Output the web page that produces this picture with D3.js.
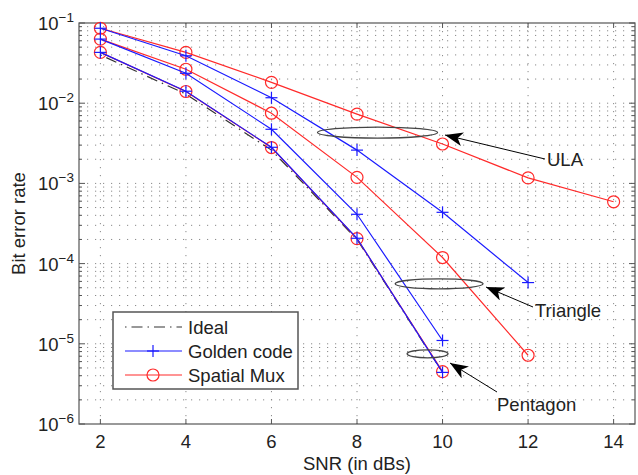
<!DOCTYPE html>
<html>
<head>
<meta charset="utf-8">
<script src="https://cdn.jsdelivr.net/npm/d3@7"></script>
<style>
  html, body { margin: 0; padding: 0; background: #fff; }
  svg { display: block; }
  text { font-family: "Liberation Sans", Arial, Helvetica, sans-serif; fill: #222; }
</style>
</head>
<body>
<svg id="chart" width="638" height="475"></svg>
<script>
// SNR points (dB)
const snr = [2, 4, 6, 8, 10, 12, 14];

// Bit error rates per array geometry and scheme
const idealBer        = [4.0e-2, 1.3e-2, 2.6e-3, 2.0e-4, 4.4e-6];
const ulaGolden       = [8.6e-2, 3.9e-2, 1.17e-2, 2.6e-3, 4.36e-4, 5.8e-5];
const ulaSpatial      = [8.6e-2, 4.3e-2, 1.82e-2, 7.3e-3, 3.1e-3, 1.17e-3, 5.9e-4];
const triangleGolden  = [6.3e-2, 2.36e-2, 4.73e-3, 4.12e-4, 1.1e-5];
const triangleSpatial = [6.3e-2, 2.65e-2, 7.5e-3, 1.19e-3, 1.19e-4, 7.2e-6];
const pentagonGolden  = [4.3e-2, 1.41e-2, 2.82e-3, 2.07e-4, 4.4e-6];
const pentagonSpatial = [4.3e-2, 1.40e-2, 2.80e-3, 2.05e-4, 4.5e-6];

const xTicks = [2, 4, 6, 8, 10, 12, 14];
const yTickExps = [-1, -2, -3, -4, -5, -6];
const legendLabels = ["Ideal", "Golden code", "Spatial Mux"];
const groupLabels = ["ULA", "Triangle", "Pentagon"];

const svg = d3.select("#chart");
const plot = { left: 79, right: 635, top: 23, bottom: 424 };
const fs = 18.5;
const dashDot = "1.5,5,11,5";

const x = d3.scaleLinear().domain([1.5, 14.5]).range([plot.left, plot.right]);
const y = d3.scaleLog().domain([1e-6, 1e-1]).range([plot.bottom, plot.top]);

const blue = "#1a1aff", red = "#ff2a2a", gridCol = "#8a8a8a";

// grid: dotted lines at every decade and minor value, and at each x tick
const minorVals = [];
for (let e = -6; e < -1; e++) for (let m = 1; m <= 9; m++) minorVals.push(m * Math.pow(10, e));
minorVals.push(1e-1);

const grid = svg.append("g");
grid.selectAll("line.h").data(minorVals.filter(v => v > 1e-6 && v < 1e-1)).join("line")
  .attr("x1", plot.left).attr("x2", plot.right)
  .attr("y1", d => y(d)).attr("y2", d => y(d))
  .attr("stroke", gridCol).attr("stroke-width", 1)
  .attr("stroke-dasharray", "1.2,6.8");
grid.selectAll("line.v").data(xTicks).join("line")
  .attr("x1", d => x(d)).attr("x2", d => x(d))
  .attr("y1", plot.top).attr("y2", plot.bottom)
  .attr("stroke", gridCol).attr("stroke-width", 1)
  .attr("stroke-dasharray", "1.2,6.8");

// axes box
svg.append("rect")
  .attr("x", plot.left).attr("y", plot.top)
  .attr("width", plot.right - plot.left).attr("height", plot.bottom - plot.top)
  .attr("fill", "none").attr("stroke", "#555").attr("stroke-width", 1.2);

// ticks (inside, on both sides)
const ticks = svg.append("g").attr("stroke", "#555").attr("stroke-width", 1);
xTicks.forEach(t => {
  ticks.append("line").attr("x1", x(t)).attr("x2", x(t)).attr("y1", plot.bottom).attr("y2", plot.bottom - 5);
  ticks.append("line").attr("x1", x(t)).attr("x2", x(t)).attr("y1", plot.top).attr("y2", plot.top + 5);
});
minorVals.forEach(v => {
  const major = Math.abs(Math.log10(v) - Math.round(Math.log10(v))) < 1e-9;
  const len = major ? 6 : 3;
  ticks.append("line").attr("x1", plot.left).attr("x2", plot.left + len).attr("y1", y(v)).attr("y2", y(v));
  ticks.append("line").attr("x1", plot.right).attr("x2", plot.right - len).attr("y1", y(v)).attr("y2", y(v));
});

// x tick labels
svg.append("g").selectAll("text").data(xTicks).join("text")
  .attr("x", d => x(d)).attr("y", plot.bottom + 24)
  .attr("text-anchor", "middle").attr("font-size", fs)
  .text(d => d);

// y tick labels as powers of ten
yTickExps.forEach(e => {
  const t = svg.append("text")
    .attr("x", plot.left - 5).attr("y", y(Math.pow(10, e)) + 7)
    .attr("text-anchor", "end").attr("font-size", fs);
  t.append("tspan").text("10");
  t.append("tspan").attr("dy", -8).attr("font-size", 13.5).text("\u2212" + Math.abs(e));
});

// axis titles
svg.append("text").attr("x", (plot.left + plot.right) / 2).attr("y", 470)
  .attr("text-anchor", "middle").attr("font-size", fs).text("SNR (in dBs)");
svg.append("text").attr("transform", `translate(25, ${(plot.top + plot.bottom) / 2}) rotate(-90)`)
  .attr("text-anchor", "middle").attr("font-size", fs).text("Bit error rate");

// curves
const line = d3.line().x(d => x(d[0])).y(d => y(d[1]));
const pairs = arr => arr.map((v, i) => [snr[i], v]);

const curves = svg.append("g");
function drawSeries(values, color, marker, dash) {
  const pts = pairs(values);
  curves.append("path").datum(pts)
    .attr("d", line).attr("fill", "none")
    .attr("stroke", color).attr("stroke-width", 1.2)
    .attr("stroke-dasharray", dash || null);
  if (marker === "o") {
    curves.append("g").selectAll("circle").data(pts).join("circle")
      .attr("cx", d => x(d[0])).attr("cy", d => y(d[1])).attr("r", 6)
      .attr("fill", "none").attr("stroke", color).attr("stroke-width", 1.2);
  } else if (marker === "+") {
    const g = curves.append("g").attr("stroke", color).attr("stroke-width", 1.2);
    pts.forEach(d => {
      const cx = x(d[0]), cy = y(d[1]);
      g.append("line").attr("x1", cx - 6).attr("x2", cx + 6).attr("y1", cy).attr("y2", cy);
      g.append("line").attr("x1", cx).attr("x2", cx).attr("y1", cy - 6).attr("y2", cy + 6);
    });
  }
}

drawSeries(idealBer, "#333", null, dashDot);
drawSeries(ulaSpatial, red, "o");
drawSeries(triangleSpatial, red, "o");
drawSeries(pentagonSpatial, red, "o");
drawSeries(ulaGolden, blue, "+");
drawSeries(triangleGolden, blue, "+");
drawSeries(pentagonGolden, blue, "+");

// group annotations: ellipse around curve pair plus arrow to label
const defs = svg.append("defs");
defs.append("marker").attr("id", "arrowhead")
  .attr("viewBox", "0 0 18 14").attr("refX", 18).attr("refY", 7)
  .attr("markerWidth", 18).attr("markerHeight", 14).attr("markerUnits", "userSpaceOnUse")
  .attr("orient", "auto")
  .append("path").attr("d", "M18,7 L0,0 L5,7 L0,14 Z").attr("fill", "#000");

const annotations = [
  { label: groupLabels[0], snrMid: 8.48, ber: 4.3e-3, rx: 60, ry: 5.5, tip: [445, 135], tail: [545, 159], text: [547, 166] },
  { label: groupLabels[1], snrMid: 9.92, ber: 5.6e-5, rx: 44, ry: 5, tip: [486, 287], tail: [533, 307], text: [535, 317] },
  { label: groupLabels[2], snrMid: 9.65, ber: 7.5e-6, rx: 20.5, ry: 4, tip: [450, 363], tail: [497, 392], text: [497, 411] }
];
const ann = svg.append("g");
annotations.forEach(a => {
  ann.append("ellipse").attr("cx", x(a.snrMid)).attr("cy", y(a.ber))
    .attr("rx", a.rx).attr("ry", a.ry)
    .attr("fill", "none").attr("stroke", "#444").attr("stroke-width", 1.3);
  ann.append("line").attr("x1", a.tail[0]).attr("y1", a.tail[1])
    .attr("x2", a.tip[0]).attr("y2", a.tip[1])
    .attr("stroke", "#000").attr("stroke-width", 1)
    .attr("marker-end", "url(#arrowhead)");
  ann.append("text").attr("x", a.text[0]).attr("y", a.text[1])
    .attr("font-size", fs).text(a.label);
});

// legend
const lg = svg.append("g");
lg.append("rect").attr("x", 113).attr("y", 312).attr("width", 185).attr("height", 77)
  .attr("fill", "#fff").attr("stroke", "#555").attr("stroke-width", 1.5);
const legendRows = [
  { color: "#333", marker: null, dash: dashDot },
  { color: blue, marker: "+" },
  { color: red, marker: "o" }
];
legendRows.forEach((r, i) => {
  const cy = 327 + i * 24;
  lg.append("line").attr("x1", 125).attr("x2", 182).attr("y1", cy).attr("y2", cy)
    .attr("stroke", r.color).attr("stroke-width", 1.2).attr("stroke-dasharray", r.dash || null);
  if (r.marker === "+") {
    lg.append("line").attr("x1", 147).attr("x2", 159).attr("y1", cy).attr("y2", cy).attr("stroke", r.color).attr("stroke-width", 1.2);
    lg.append("line").attr("x1", 153).attr("x2", 153).attr("y1", cy - 6).attr("y2", cy + 6).attr("stroke", r.color).attr("stroke-width", 1.2);
  } else if (r.marker === "o") {
    lg.append("circle").attr("cx", 153).attr("cy", cy).attr("r", 6)
      .attr("fill", "none").attr("stroke", r.color).attr("stroke-width", 1.2);
  }
  lg.append("text").attr("x", 188).attr("y", cy + 6.5).attr("font-size", fs).text(legendLabels[i]);
});
</script>
</body>
</html>
